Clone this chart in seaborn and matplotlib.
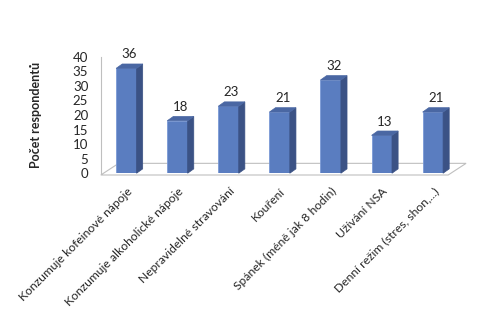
import matplotlib
matplotlib.use("Agg")
import matplotlib.pyplot as plt
import seaborn as sns
import pandas as pd
from matplotlib.patches import Polygon

categories = ["Konzumuje kofeinové nápoje", "Konzumuje alkoholické nápoje",
              "Nepravidelné stravování", "Kouření", "Spánek (méně jak 8 hodin)",
              "Užívání NSA", "Denní režim (stres, shon,...)"]
values = [36, 18, 23, 21, 32, 13, 21]
yticks = [0, 5, 10, 15, 20, 25, 30, 35, 40]

sns.set_theme(style="white")
plt.rcParams['font.family'] = ['Lato', 'DejaVu Sans']

df = pd.DataFrame({"cat": categories, "val": values})
fig = plt.figure(figsize=(4.8, 3.15), dpi=100)
ax = fig.add_axes([0.21, 0.45, 0.745, 0.37])
sns.barplot(data=df, x="cat", y="val", color="#5A7DC0", width=0.4, ax=ax,
            saturation=1, edgecolor="#7A9AD6", linewidth=0.6, zorder=3)

ax.set_xlim(-0.5, 6.5)
ax.set_ylim(0, 40)
ax.set_yticks(yticks)
ax.set_yticklabels([str(t) for t in yticks], fontsize=9.5)
ax.tick_params(axis='y', length=0, pad=9)
ax.tick_params(axis='x', length=0, pad=9)
ax.set_xticks(range(len(categories)))
ax.set_xticklabels(categories, rotation=45, ha='right', rotation_mode='anchor', fontsize=8.7)
ax.set_xlabel("")
ax.set_ylabel("Počet respondentů", fontsize=9, fontweight='bold', labelpad=22)
for s in ['top', 'right', 'bottom']:
    ax.spines[s].set_visible(False)
ax.spines['left'].set_color('#BFBFBF')
ax.spines['left'].set_linewidth(0.8)

# 3D floor
dx = 0.35
floor = Polygon([(-0.5, -0.6), (6.3, -0.6), (6.3 + dx, -0.6 + 4.0), (-0.5 + dx, -0.6 + 4.0)],
                closed=True, facecolor='white', edgecolor='#BFBFBF', linewidth=0.8,
                clip_on=False, zorder=1)
ax.add_patch(floor)

# 3D faces for bars
ddx, ddy = 0.12, 1.5
for p, v in zip(ax.patches[:len(values)], values):
    x0 = p.get_x(); w = p.get_width(); h = p.get_height()
    x1 = x0 + w
    side = Polygon([(x1, 0), (x1 + ddx, ddy), (x1 + ddx, h + ddy), (x1, h)],
                   closed=True, facecolor='#3B5285', edgecolor='#3B5285', lw=0.5,
                   clip_on=False, zorder=3)
    top = Polygon([(x0, h), (x0 + ddx, h + ddy), (x1 + ddx, h + ddy), (x1, h)],
                  closed=True, facecolor='#4A67A3', edgecolor='#4A67A3', lw=0.5,
                  clip_on=False, zorder=3)
    ax.add_patch(side); ax.add_patch(top)
    ax.text(x0 + w / 2 + ddx / 2, h + ddy + 1.2, str(v), ha='center', va='bottom',
            fontsize=9.5, clip_on=False)

fig.savefig("out.png", dpi=100)
